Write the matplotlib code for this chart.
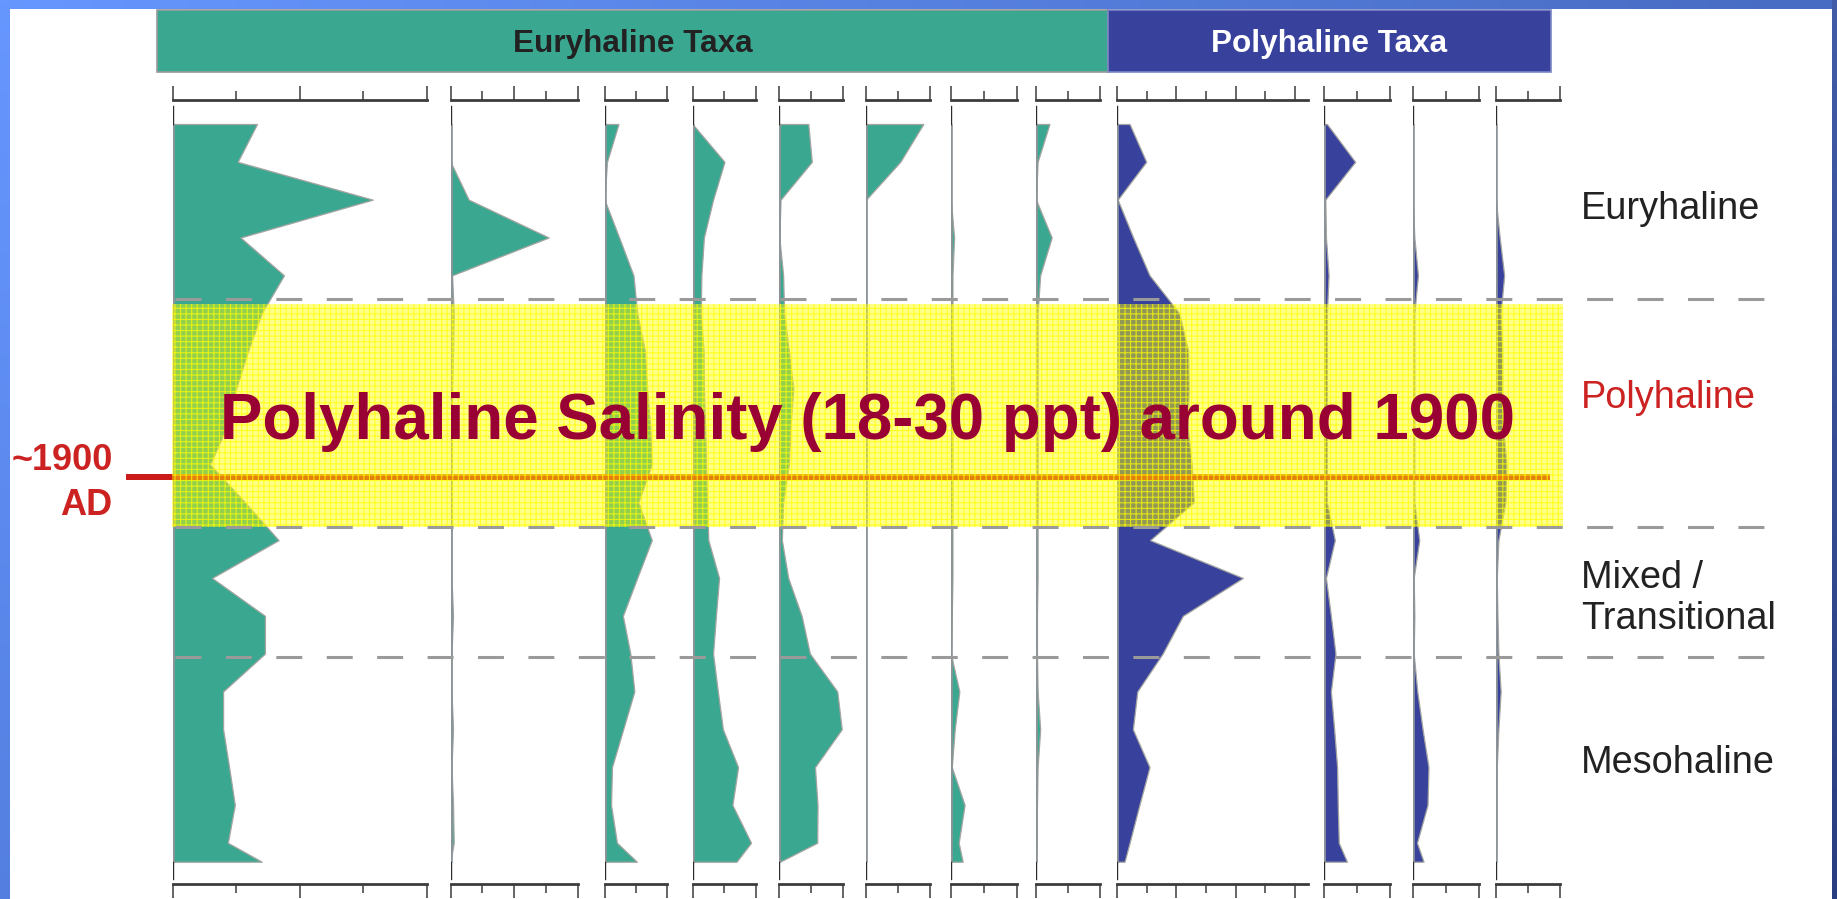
import numpy as np
import matplotlib
matplotlib.use('Agg')
import matplotlib.pyplot as plt
from matplotlib.patches import Rectangle
from matplotlib.transforms import Affine2D

plt.rcParams['font.family'] = ['Liberation Sans', 'DejaVu Sans']

# core depth (cm) of each counted sample
depth = [0, 2, 4, 6, 8, 10, 12, 14, 16, 18, 20, 22, 24, 26, 28, 30, 32, 34, 36, 38, 39]

# relative abundance (%) of the euryhaline taxa
eury_1 = [26.5, 20.4, 63, 21.3, 35, 28, 23.7, 19.9, 17, 11.7, 22.7, 33.3, 12.3, 29, 29, 15.8, 15.8, 17.7, 19.5, 17.3, 28]
eury_2 = [0, 0, 5.7, 30.8, 0.5, 1, 0.8, 0.5, 0.3, 0.3, 0.3, 0.3, 0.3, 0.8, 0.3, 0.3, 0.8, 0.3, 0.8, 1, 0]
eury_3 = [4.5, 0.8, 0, 4.7, 9.3, 10.5, 13, 13.7, 14.7, 15.2, 10.9, 15.2, 10.5, 5.9, 8.3, 9.6, 6, 2.4, 2.1, 4, 10.4]
eury_4 = [0, 10.1, 6.5, 3.6, 2.8, 2.6, 3.5, 3.6, 4, 4.3, 4.6, 5, 8.4, 7.4, 6.5, 8, 9.6, 14.4, 12.6, 18.5, 13.9]
eury_5 = [9.1, 10.2, 0.4, 0, 1.2, 1.5, 3, 4.4, 3.5, 3, 1.2, 0.8, 2.8, 7, 9.6, 18.2, 19.6, 11.2, 12, 11.9, 0.2]
eury_6 = [17.9, 10.7, 0, 0, 0, 0, 0, 0, 0, 0, 0, 0, 0, 0, 0, 0, 0, 0, 0, 0, 0]
eury_7 = [0, 0, 0, 1, 0.5, 0.5, 0.5, 0.8, 0.5, 0.5, 0.5, 0.5, 0.5, 0.3, 0, 2.6, 1.2, 0.3, 4.2, 2.4, 3.6]
eury_8 = [4.2, 0.5, 0, 4.9, 1.3, 0.5, 0.5, 0.5, 0.5, 0.5, 0.5, 0.5, 0.5, 0.3, 0.3, 0.5, 1.3, 0.5, 0.3, 0.2, 0]

# relative abundance (%) of the polyhaline taxa
poly_1 = [4.3, 9.9, 0.3, 5.5, 11, 21, 24, 24.2, 23.8, 25.2, 25.9, 11.2, 42.4, 22.2, 15.4, 6.9, 5.4, 11, 7.6, 4.3, 2.6]
poly_2 = [0.8, 9.4, 0.3, 0.5, 1.3, 0.8, 0.8, 0.8, 0.8, 0.8, 0.8, 3.2, 0.5, 2, 3.4, 2, 3, 3.9, 4.1, 4.4, 6.9]
poly_3 = [0, 0, 0, 0.5, 1.6, 0.5, 0.5, 0.5, 0.5, 0.5, 0.5, 2, 0.3, 0.5, 0.3, 1.4, 3, 4.8, 4.5, 1.3, 3.3]
poly_4 = [0, 0, 0, 1.2, 2.6, 1.5, 2, 2, 2.3, 3.3, 3, 0.8, 0.3, 0.5, 0.8, 1.5, 0.8, 0.3, 0.2, 0.2, 0]

# x-axis extent and tick step of each panel (%)
scale_max = [80, 40, 20, 20, 20, 20, 20, 20, 64.4, 20, 20, 20]
scale_step = [20, 10, 10, 10, 10, 10, 10, 10, 10, 10, 10, 10]

# salinity zone boundaries and the ~1900 AD horizon (cm)
zone_bounds = [9.27, 21.32, 28.16]
polyhaline_zone = (9.52, 21.3)
ad_1900 = 18.66

zone_names = ['Euryhaline', 'Polyhaline', 'Mixed /\nTransitional', 'Mesohaline']

TEAL = '#3aa891'
BLUE = '#38429d'

W, H = 1837, 899
fig = plt.figure(figsize=(W / 100, H / 100), dpi=100)
fig.patch.set_facecolor('white')
# pixel coordinates, origin top-left
px = Affine2D().scale(1 / W, -1 / H).translate(0, 1) + fig.transFigure


def box(x0, y0, x1, y1):
    return [x0 / W, 1 - y1 / H, (x1 - x0) / W, (y1 - y0) / H]


# rows of first and last sample
Y_TOP, Y_BOT = 124, 861.7
cm_per_px = (depth[-1] - depth[0]) / (Y_BOT - Y_TOP)


def to_depth(y):
    return depth[0] + (y - Y_TOP) * cm_per_px


# blue slide frame
top_band = fig.add_axes(box(0, 0, W, 9))
grad = np.linspace([0.40, 0.59, 1.0], [0.28, 0.42, 0.76], 256)[None, :, :]
top_band.imshow(grad, aspect='auto')
top_band.axis('off')
left_band = fig.add_axes(box(0, 0, 10, H))
grad = np.linspace([0.40, 0.59, 1.0], [0.33, 0.50, 0.88], 256)[:, None, :]
left_band.imshow(grad, aspect='auto')
left_band.axis('off')
right_band = fig.add_axes(box(1832, 0, W, H))
grad = np.linspace([0.26, 0.36, 0.66], [0.16, 0.24, 0.50], 256)[:, None, :]
right_band.imshow(grad, aspect='auto')
right_band.axis('off')

panel_px = [(173, 426.6), (450.5, 578), (604.5, 666.7), (692.5, 755.8),
            (779.3, 843), (866, 930), (950.8, 1016.5), (1036, 1100),
            (1116.8, 1308.3), (1324.3, 1390), (1412.7, 1478.5), (1495.8, 1560.3)]
series = [eury_1, eury_2, eury_3, eury_4, eury_5, eury_6, eury_7, eury_8,
          poly_1, poly_2, poly_3, poly_4]
colours = [TEAL] * 8 + [BLUE] * 4

for (x0, x1), vals, col, xmax, step in zip(panel_px, series, colours, scale_max, scale_step):
    ax = fig.add_axes(box(x0, 100, x1, 884))
    ax.patch.set_alpha(0)
    ax.set_xlim(0, xmax)
    ax.set_ylim(to_depth(884), to_depth(100))
    ax.fill_betweenx(depth, 0, vals, facecolor=col, edgecolor='#a4a4a0', lw=0.9, zorder=2)
    ax.plot([0, 0], [depth[0], depth[-1]], color='#8d9498', lw=1.9, zorder=3, solid_capstyle='butt')
    ax.plot([0, 0], [to_depth(106), depth[0]], color='#2b2b2b', lw=1.0, zorder=3)
    ax.plot([0, 0], [depth[-1], to_depth(879)], color='#2b2b2b', lw=1.0, zorder=3)
    for s in ('left', 'right'):
        ax.spines[s].set_visible(False)
    for s in ('top', 'bottom'):
        ax.spines[s].set_color('#3c3c3c')
        ax.spines[s].set_linewidth(2.0)
    ticks = np.arange(0, xmax + 0.01, step)
    ax.set_xticks(ticks[::2])
    ax.set_xticks(ticks[1::2], minor=True)
    ax.set_yticks([])
    ax.tick_params(axis='x', which='major', top=True, bottom=True, direction='out', length=10,
                   width=1.1, color='#3c3c3c', labeltop=False, labelbottom=False)
    ax.tick_params(axis='x', which='minor', top=True, bottom=True, direction='out', length=6.5,
                   width=1.1, color='#3c3c3c')

# everything drawn over the panels
ov = fig.add_axes([0, 0, 1, 1], zorder=10)
ov.patch.set_alpha(0)
ov.set_xlim(0, W)
ov.set_ylim(to_depth(H), to_depth(0))
ov.axis('off')

ov.hlines(ad_1900, 126, 1550, color='#cc1a1a', lw=4.3, zorder=2)

band_top, band_bot = polyhaline_zone
ov.add_patch(Rectangle((172, band_top), 1563 - 172, band_bot - band_top,
                       facecolor=(1, 1, 0, 0.45), lw=0, zorder=3))
plt.rcParams['hatch.linewidth'] = 0.8
ov.add_patch(Rectangle((172, band_top), 1563 - 172, band_bot - band_top,
                       facecolor='none', edgecolor=(1, 1, 0, 0.75), hatch='+++', lw=0, zorder=3))

ov.hlines(zone_bounds, 175, 1778, colors='#9a9a9a', lw=2.2, linestyles=[(0, (8.5, 8.0))], zorder=4)

ov.text(868, 438.5, 'Polyhaline Salinity (18-30 ppt) around 1900', transform=px,
        ha='center', va='baseline', fontsize=45.8, fontweight='bold', color='#990033', zorder=5)

ov.text(112.7, 470.5, '~1900', transform=px, ha='right', va='baseline',
        fontsize=26, fontweight='bold', color='#cc2222')
ov.text(112.7, 515, 'AD', transform=px, ha='right', va='baseline',
        fontsize=26, fontweight='bold', color='#cc2222')

# taxa group headers
ov.add_patch(Rectangle((157, 10), 1108 - 157, 62, transform=px, facecolor=TEAL,
                       edgecolor='#9a9a9a', lw=1.2))
ov.add_patch(Rectangle((1108, 10), 1551 - 1108, 62, transform=px, facecolor=BLUE,
                       edgecolor='#7c86c6', lw=1.2))
ov.text(632.5, 51.7, 'Euryhaline Taxa', transform=px, ha='center', va='baseline',
        fontsize=22.7, fontweight='bold', color='#222222')
ov.text(1329.5, 51.7, 'Polyhaline Taxa', transform=px, ha='center', va='baseline',
        fontsize=22.7, fontweight='bold', color='white')

# zone labels on the right
label_rows = [219, 408.3, 629.3, 772.7]
label_cols = ['#222222', '#cc2222', '#222222', '#222222']
for name, yb, c in zip(zone_names, label_rows, label_cols):
    ov.text(1581, yb, name, transform=px, ha='left', va='baseline',
            fontsize=27.3, color=c, linespacing=1.2)

fig.savefig('out.png', dpi=100)
